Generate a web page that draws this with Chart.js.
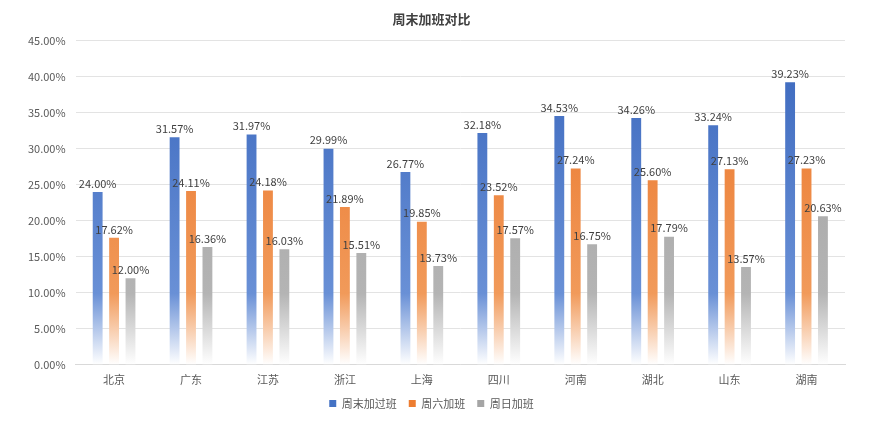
<!DOCTYPE html>
<html>
<head>
<meta charset="utf-8">
<script src="https://cdn.jsdelivr.net/npm/chart.js@4/dist/chart.umd.min.js"></script>
<style>
  html, body { margin: 0; padding: 0; background: #fff; }
  #wrap { width: 877px; height: 422px; }
</style>
</head>
<body>
<div id="wrap"><canvas id="bar"></canvas></div>
<script>
const categories = ["北京", "广东", "江苏", "浙江", "上海", "四川", "河南", "湖北", "山东", "湖南"];
const weekendValues = [24.00, 31.57, 31.97, 29.99, 26.77, 32.18, 34.53, 34.26, 33.24, 39.23];
const saturdayValues = [17.62, 24.11, 24.18, 21.89, 19.85, 23.52, 27.24, 25.60, 27.13, 27.23];
const sundayValues = [12.00, 16.36, 16.03, 15.51, 13.73, 17.57, 16.75, 17.79, 13.57, 20.63];
const seriesNames = ["周末加过班", "周六加班", "周日加班"];
const yTicks = [0, 5, 10, 15, 20, 25, 30, 35, 40, 45];

const FONT = "'Microsoft YaHei', 'Noto Sans CJK SC', sans-serif";
const solidColors = ["#4472c4", "#ed7d31", "#a5a5a5"];

// fade each bar to white near the axis
function fadeFill(top, mid) {
  return (context) => {
    const chart = context.chart;
    const area = chart.chartArea;
    if (!area) return top;
    const g = chart.ctx.createLinearGradient(0, area.top, 0, area.bottom);
    g.addColorStop(0, top);
    g.addColorStop(0.78, mid);
    g.addColorStop(1, "rgba(255,255,255,1)");
    return g;
  };
}

// value labels above each bar
const valueLabels = {
  id: "valueLabels",
  afterDatasetsDraw(chart) {
    const ctx = chart.ctx;
    ctx.save();
    ctx.font = "11px " + FONT;
    ctx.fillStyle = "#404040";
    ctx.textAlign = "center";
    ctx.textBaseline = "bottom";
    chart.data.datasets.forEach((ds, i) => {
      chart.getDatasetMeta(i).data.forEach((bar, j) => {
        ctx.fillText(ds.data[j].toFixed(2) + "%", bar.x, bar.y - 3);
      });
    });
    ctx.restore();
  }
};

const ctx = document.getElementById("bar").getContext("2d");
new Chart(ctx, {
  type: "bar",
  data: {
    labels: categories,
    datasets: [
      { label: seriesNames[0], data: weekendValues, backgroundColor: fadeFill("#3a67bd", "#6990d6") },
      { label: seriesNames[1], data: saturdayValues, backgroundColor: fadeFill("#ea7328", "#f19a5a") },
      { label: seriesNames[2], data: sundayValues, backgroundColor: fadeFill("#a0a0a0", "#b4b4b4") }
    ]
  },
  plugins: [valueLabels],
  options: {
    responsive: true,
    maintainAspectRatio: false,
    animation: false,
    categoryPercentage: 0.64,
    barPercentage: 0.6,
    layout: { padding: { left: 18, right: 32, top: 7, bottom: 3 } },
    plugins: {
      title: {
        display: true,
        text: "周末加班对比",
        color: "#404040",
        font: { family: FONT, size: 13, weight: "bold" },
        padding: { top: 4, bottom: 14 }
      },
      legend: {
        position: "bottom",
        labels: {
          color: "#595959",
          font: { family: FONT, size: 11 },
          boxWidth: 7,
          boxHeight: 7,
          padding: 12,
          generateLabels: (chart) => chart.data.datasets.map((ds, i) => ({
            text: ds.label,
            fillStyle: solidColors[i],
            strokeStyle: solidColors[i],
            lineWidth: 0,
            fontColor: "#595959",
            datasetIndex: i
          }))
        }
      },
      tooltip: { enabled: false }
    },
    scales: {
      x: {
        grid: { display: false },
        border: { color: "#d9d9d9" },
        ticks: { color: "#595959", font: { family: FONT, size: 11 }, padding: 0 }
      },
      y: {
        min: yTicks[0],
        max: yTicks[yTicks.length - 1],
        afterBuildTicks: (axis) => { axis.ticks = yTicks.map((v) => ({ value: v })); },
        grid: { color: "#e3e3e3", drawTicks: false },
        border: { display: false },
        ticks: {
          color: "#595959",
          font: { family: FONT, size: 11 },
          padding: 10,
          callback: (v) => v.toFixed(2) + "%"
        }
      }
    }
  }
});
</script>
</body>
</html>
